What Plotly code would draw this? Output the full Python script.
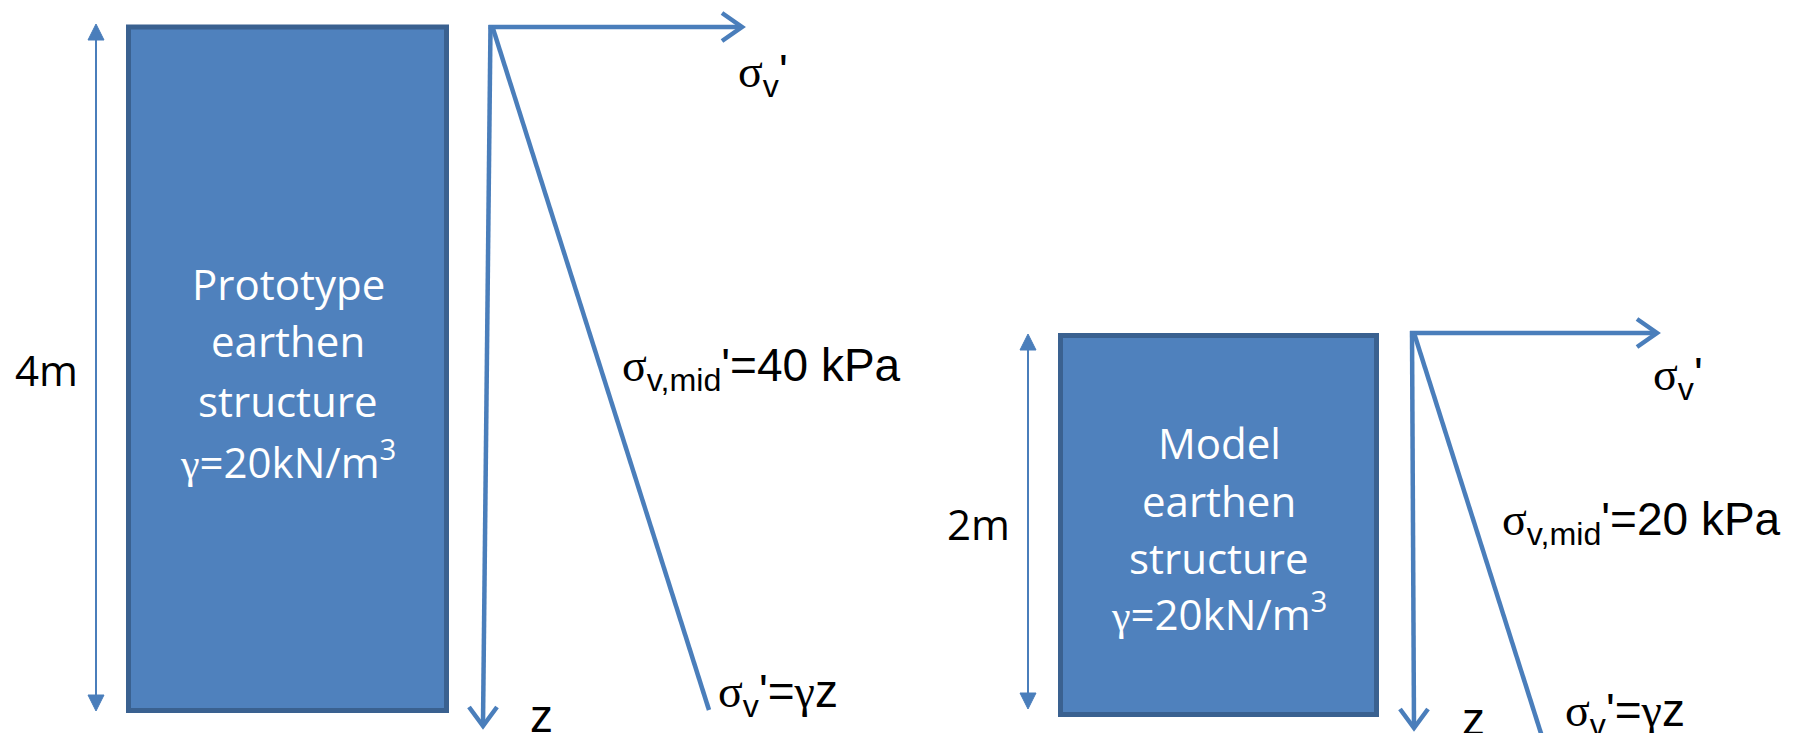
import plotly.graph_objects as go

# ---------------- diagram values ----------------
panel_names = ["Prototype", "Model"]
heights_m = [4, 2]
gamma_kN_m3 = [20, 20]
sigma_mid_kPa = [40, 20]
height_labels = [f"{h}m" for h in heights_m]
block_lines = [["Prototype", "earthen", "structure"], ["Model", "earthen", "structure"]]

# ---------------- layout geometry (canvas units, y downward) ----------------
W, H = 1809, 733
rect_x0 = [128.5, 1060.5]
rect_x1 = [446.5, 1376.5]
rect_y0 = [27, 335.5]
rect_y1 = [710.5, 714.5]
dim_x = [96, 1028]
dim_top = [24, 334]
dim_bot = [711, 709]
orig_x = [490.5, 1412]
orig_y = [27, 333]
htip_x = [742, 1657]
vtip_x = [483, 1414]
vtip_y = [726, 728]
diag_x1 = [709, 1545]
diag_y1 = [710, 746]
text_cx = [288, 1219]
text_y = [[283, 340, 400, 459], [442, 500, 557, 611]]

BLUE = "#4A7EBB"
FILL = "#4F81BD"
EDGE = "#3A6190"
LW = 4.5
SYM = "<span style='font-family:Liberation Serif, DejaVu Serif'>{}</span>"
SIG = SYM.format("σ")
GAM = SYM.format("γ")

fig = go.Figure()
shapes = []
ann = []


def line(x0, y0, x1, y1, w=LW, color=BLUE):
    shapes.append(dict(type="line", xref="x", yref="y", x0=x0, y0=y0, x1=x1, y1=y1,
                       line=dict(color=color, width=w)))


def path(d, w=LW, fill=None, color=BLUE):
    s = dict(type="path", xref="x", yref="y", path=d, line=dict(color=color, width=w))
    if fill:
        s["fillcolor"] = fill
    shapes.append(s)


def text(x, y, t, size=44, family="Liberation Sans, Arial", color="black", xa="left", ya="middle"):
    ann.append(dict(x=x, y=y, xref="x", yref="y", text=t, showarrow=False,
                    xanchor=xa, yanchor=ya, font=dict(size=size, family=family, color=color)))


for i in range(2):
    # block
    shapes.append(dict(type="rect", xref="x", yref="y", x0=rect_x0[i], x1=rect_x1[i],
                       y0=rect_y0[i], y1=rect_y1[i], fillcolor=FILL,
                       line=dict(color=EDGE, width=5)))
    # dimension double arrow
    x = dim_x[i]
    line(x, dim_top[i] + 14, x, dim_bot[i] - 14, w=2)
    path(f"M {x} {dim_top[i]} L {x-8} {dim_top[i]+16} L {x+8} {dim_top[i]+16} Z", w=1, fill=BLUE)
    path(f"M {x} {dim_bot[i]} L {x-8} {dim_bot[i]-16} L {x+8} {dim_bot[i]-16} Z", w=1, fill=BLUE)
    text(x - 50, (dim_top[i] + dim_bot[i]) / 2 + 2, height_labels[i], size=42,
         family="Open Sans", xa="center")

    # axes
    ox, oy = orig_x[i], orig_y[i]
    line(ox - 2, oy, htip_x[i] - 2, oy)
    path(f"M {htip_x[i]-20} {oy-14} L {htip_x[i]} {oy} L {htip_x[i]-20} {oy+14}")
    line(ox, oy - 2, vtip_x[i], vtip_y[i] - 2)
    path(f"M {vtip_x[i]-14} {vtip_y[i]-19} L {vtip_x[i]} {vtip_y[i]} L {vtip_x[i]+14} {vtip_y[i]-19}")
    # stress profile sigma_v' = gamma z
    line(ox + 2, oy, diag_x1[i], diag_y1[i])

    # block text
    for k, s in enumerate(block_lines[i]):
        text(text_cx[i], text_y[i][k], s, size=42, family="Open Sans", color="white", xa="center")
    text(text_cx[i], text_y[i][3], f"{GAM}={gamma_kN_m3[i]}kN/m<sup>3</sup>", size=42,
         family="Open Sans", color="white", xa="center")

# labels
text(736, 74, f"{SIG}<sub>v</sub>'", size=46)
text(620, 368, f"{SIG}<sub>v,mid</sub>'={sigma_mid_kPa[0]} kPa", size=46)
text(716, 694, f"{SIG}<sub>v</sub>'={GAM}z", size=46)
text(541, 716, "z", size=46, xa="center")

text(1651, 377, f"{SIG}<sub>v</sub>'", size=46)
text(1500, 522, f"{SIG}<sub>v,mid</sub>'={sigma_mid_kPa[1]} kPa", size=46)
text(1563, 713, f"{SIG}<sub>v</sub>'={GAM}z", size=46)
text(1473, 719, "z", size=46, xa="center")

fig.update_layout(
    width=W, height=H, margin=dict(l=0, r=0, t=0, b=0),
    paper_bgcolor="white", plot_bgcolor="white",
    xaxis=dict(range=[0, W], visible=False, fixedrange=True),
    yaxis=dict(range=[H, 0], visible=False, fixedrange=True),
    shapes=shapes, annotations=ann, showlegend=False,
)
fig.write_html("out.html", config={"displayModeBar": False},
               post_script="document.body.style.margin='0';document.body.style.overflow='hidden';")
